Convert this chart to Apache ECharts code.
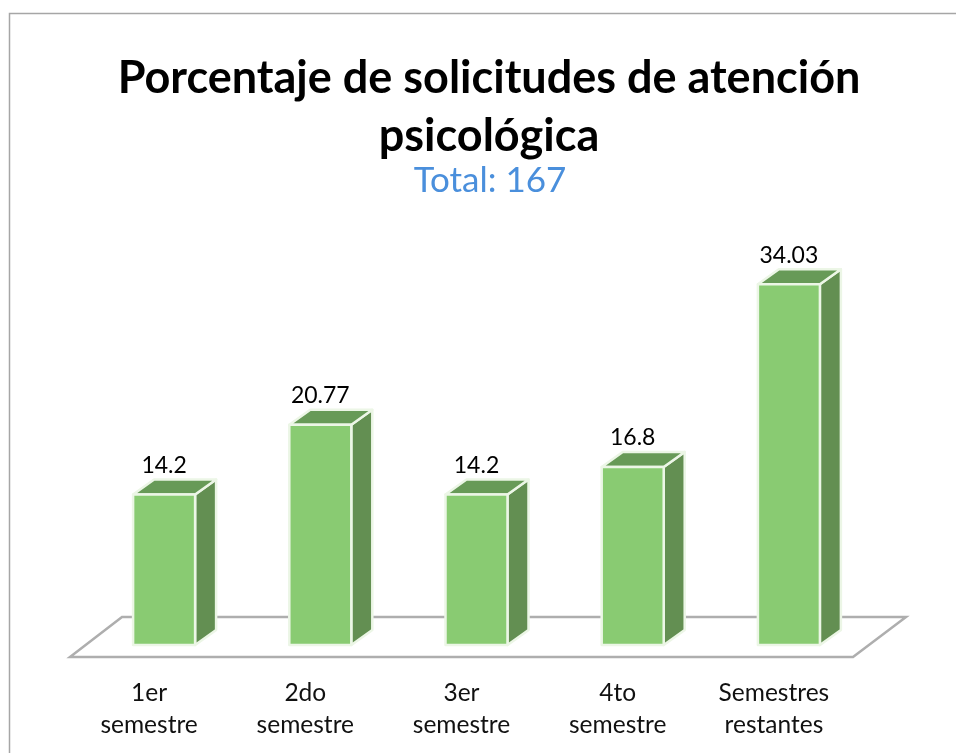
<!DOCTYPE html>
<html lang="es" style="height: 100%">
<head>
  <meta charset="utf-8">
  <script src="https://cdn.jsdelivr.net/npm/echarts/dist/echarts.min.js"></script>
</head>
<body style="height: 100%; margin: 0; background: #fff">
  <div id="container" style="height: 100%"></div>
  <script type="text/javascript">
    var categories = ['1er\nsemestre', '2do\nsemestre', '3er\nsemestre', '4to\nsemestre', 'Semestres\nrestantes'];
    var values = [14.2, 20.77, 14.2, 16.8, 34.03];
    var valueLabels = ['14.2', '20.77', '14.2', '16.8', '34.03'];

    var FONT = 'Lato, "Noto Sans", sans-serif';
    var DEPTH_X = 21, DEPTH_Y = 15, EDGE = '#ecf6e6';

    var myChart = echarts.init(document.getElementById('container'), null, { renderer: 'canvas' });

    // the 3d box: front face plus top and side faces pushed back by the depth offset
    function renderBar(params, api) {
      var base = api.coord([api.value(0), 0]);
      var top = api.coord([api.value(0), api.value(1)]);
      var w = 62;
      var l = base[0] - w / 2, r = base[0] + w / 2, t = top[1], b = base[1];
      var edge = { stroke: EDGE, lineWidth: 2.5, lineJoin: 'round' };
      return {
        type: 'group',
        children: [
          {
            type: 'polygon',
            shape: { points: [[r, t], [r + DEPTH_X, t - DEPTH_Y], [r + DEPTH_X, b - DEPTH_Y], [r, b]] },
            style: Object.assign({ fill: '#638f52' }, edge)
          },
          {
            type: 'polygon',
            shape: { points: [[l, t], [l + DEPTH_X, t - DEPTH_Y], [r + DEPTH_X, t - DEPTH_Y], [r, t]] },
            style: Object.assign({ fill: '#679a57' }, edge)
          },
          {
            type: 'rect',
            shape: { x: l, y: t, width: w, height: b - t },
            style: Object.assign({ fill: '#89cb72' }, edge)
          },
          {
            type: 'text',
            x: base[0],
            y: t - 29,
            style: {
              text: valueLabels[params.dataIndex],
              fill: '#000',
              font: '23px ' + FONT,
              align: 'center',
              verticalAlign: 'middle'
            }
          }
        ]
      };
    }

    // floor plane under the bars
    function renderFloor(params, api) {
      var a = api.coord([0, 0]);
      var b = api.coord([categories.length - 1, 0]);
      var band = api.size([1, 0])[0];
      var y = a[1];
      var left = a[0] - band / 2, right = b[0] + band / 2;
      return {
        type: 'polygon',
        shape: {
          points: [
            [left - 16, y + 12],
            [right - 14, y + 12],
            [right + 39, y - 28],
            [left + 36, y - 28]
          ]
        },
        style: { fill: '#fff', stroke: '#aeaeae', lineWidth: 2.5 }
      };
    }

    var option = {
      animation: false,
      title: [
        {
          text: 'Porcentaje de solicitudes de atención\npsicológica',
          left: 484,
          top: 44,
          textAlign: 'center',
          textStyle: { fontFamily: FONT, fontWeight: 'bold', fontSize: 45, lineHeight: 58, color: '#000' }
        },
        {
          text: 'Total: 167',
          left: 485,
          top: 158,
          textAlign: 'center',
          textStyle: { fontFamily: FONT, fontWeight: 'normal', fontSize: 35, color: '#4a8fdc' }
        }
      ],
      graphic: [
        {
          type: 'polyline',
          shape: { points: [[9.5, 753], [9.5, 13.5], [956, 13.5]] },
          style: { stroke: '#a6a6a6', fill: null, lineWidth: 1.5 },
          silent: true
        }
      ],
      grid: { left: 86, width: 781, top: 221, height: 424 },
      xAxis: {
        type: 'category',
        data: categories,
        axisLine: { show: false },
        axisTick: { show: false },
        axisLabel: {
          interval: 0,
          margin: 32,
          padding: [0, 30, 0, 0],
          fontFamily: FONT,
          fontSize: 24.5,
          lineHeight: 32,
          color: '#111'
        }
      },
      yAxis: { type: 'value', min: 0, max: 40, show: false },
      series: [
        {
          type: 'custom',
          coordinateSystem: 'cartesian2d',
          renderItem: renderFloor,
          data: [[0, 0]],
          silent: true,
          z: 1
        },
        {
          type: 'custom',
          coordinateSystem: 'cartesian2d',
          renderItem: renderBar,
          encode: { x: 0, y: 1 },
          data: values.map(function (v, i) { return [i, v]; }),
          z: 2
        }
      ]
    };

    myChart.setOption(option);
    window.addEventListener('resize', myChart.resize);
  </script>
</body>
</html>
